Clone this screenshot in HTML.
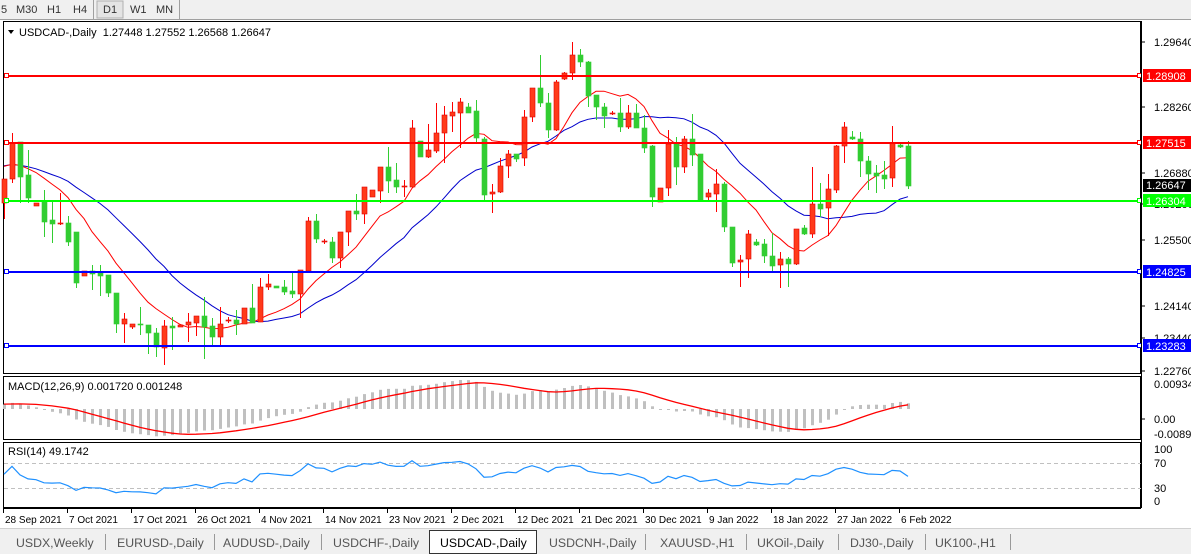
<!DOCTYPE html>
<html><head><meta charset="utf-8">
<style>
html,body{margin:0;padding:0;background:#fff;width:1191px;height:554px;overflow:hidden;font-family:"Liberation Sans",sans-serif;}
svg{display:block}
</style></head>
<body>
<svg id="s" width="1191" height="554" xmlns="http://www.w3.org/2000/svg" font-family="Liberation Sans, sans-serif" font-size="11"></svg>
<script>
var D=[[1,179,203,179,219],[1,143,179,133,183],[0,142,177,142,203],[0,175,198,150,203],[1,203,206,203,206],[0,202,222,190,237],[0,220,224,202,243],[1,223,224,193,225],[0,223,242,216,246],[0,232,283,232,288],
[1,271,276,271,276],[0,271,274,265,290],[0,273,276,265,296],[0,275,293,275,297],[0,293,324,293,333],[1,319,324,313,343],[1,324,327,324,329],[0,324,325,307,335],[0,325,333,325,354],[0,333,347,328,357],
[1,326,348,320,365],[0,326,328,317,350],[1,325,327,325,327],[1,322,325,313,342],[1,316,323,316,336],[0,316,327,297,359],[0,326,337,318,345],[1,324,337,307,346],[1,320,321,317,323],[0,320,324,310,335],
[1,308,324,308,324],[0,308,323,284,323],[1,287,322,278,322],[1,284,287,274,290],[0,286,288,286,288],[0,287,292,280,295],[0,291,294,271,298],[1,270,294,270,318],[1,221,271,217,273],[0,221,239,214,243],
[1,241,242,239,244],[0,242,258,237,263],[1,232,258,232,268],[1,211,232,211,246],[0,211,214,194,220],[1,187,214,187,224],[1,190,197,190,197],[1,167,191,167,203],[0,167,181,147,193],[0,180,187,163,193],
[1,186,187,180,197],[1,128,187,120,188],[0,141,157,141,157],[1,150,157,124,158],[1,133,151,103,153],[1,115,133,106,163],[1,112,116,102,132],[1,102,113,98,148],[0,107,113,103,113],[0,111,138,100,143],
[0,139,195,137,200],[1,192,194,184,213],[1,166,192,158,193],[1,154,166,150,178],[0,154,159,154,162],[1,117,158,110,166],[1,88,117,88,122],[0,88,103,55,107],[0,103,130,93,138],[1,82,130,80,131],
[1,73,79,72,80],[1,55,73,42,80],[0,55,62,49,67],[0,62,96,61,107],[0,95,107,95,120],[0,107,116,103,128],[1,113,114,111,115],[0,113,127,98,132],[1,113,127,105,129],[0,113,128,104,128],
[0,128,148,115,153],[0,146,197,145,207],[1,188,202,188,202],[1,144,188,130,196],[0,143,167,137,185],[1,139,167,136,173],[0,139,155,114,166],[0,154,200,154,200],[1,193,197,189,201],[1,184,194,169,212],
[0,184,227,182,232],[0,227,263,227,267],[1,260,262,255,287],[1,234,259,230,278],[0,242,245,239,246],[0,244,256,239,263],[0,256,266,233,272],[1,259,265,252,288],[0,259,264,257,287],[1,229,264,229,265],
[0,228,234,225,235],[1,204,234,167,238],[0,204,209,183,217],[1,189,208,174,236],[1,146,190,145,193],[1,127,146,122,163],[0,137,139,131,140],[0,139,161,132,177],[0,161,174,156,190],[0,173,176,165,193],
[0,175,179,161,189],[1,143,178,126,187],[0,145,147,144,148],[0,146,186,141,189]];
var o=[];
function X(i){return 4+8*i;}
o.push('<rect x="0" y="0" width="1191" height="19" fill="#f0f0f0"/>');
o.push('<line x1="0" y1="19.5" x2="1191" y2="19.5" stroke="#a0a0a0"/>');
o.push('<rect x="97" y="1" width="26" height="17" fill="#e4e4e4" stroke="#b0b0b0"/>');
o.push('<line x1="93.5" y1="0" x2="93.5" y2="19" stroke="#a0a0a0"/><line x1="179.5" y1="0" x2="179.5" y2="19" stroke="#a0a0a0"/>');
[["5",1],["M30",16],["H1",47],["H4",73],["D1",103],["W1",130],["MN",156]].forEach(function(t){o.push('<text x="'+t[1]+'" y="13" fill="#333">'+t[0]+'</text>');});
o.push('<rect x="3.5" y="21.5" width="1137" height="352" fill="none" stroke="#000"/>');
o.push('<rect x="3.5" y="376.5" width="1137" height="63" fill="none" stroke="#000"/>');
o.push('<rect x="3.5" y="442.5" width="1137" height="65" fill="none" stroke="#000"/>');
o.push('<line x1="3" y1="508.5" x2="1141" y2="508.5" stroke="#000"/>');
o.push('<path d="M8 30 L14 30 L11 34 Z" fill="#000"/>');
o.push('<text x="19" y="36" fill="#000">USDCAD-,Daily&#160; 1.27448 1.27552 1.26568 1.26647</text>');
[["1.29640",42],["1.28260",107],["1.26880",173],["1.26200",204],["1.25500",240],["1.24140",306],["1.23440",338],["1.22760",371]].forEach(function(t){
 o.push('<line x1="1141" y1="'+t[1]+'" x2="1145" y2="'+t[1]+'" stroke="#000"/><text x="1154" y="'+(t[1]+4)+'" fill="#000">'+t[0]+'</text>');});
var N=D.length,cl=[];
for(var i=0;i<N;i++){cl.push(D[i][0]?D[i][1]:D[i][2]);}
var pad=[];for(i=0;i<30;i++)pad.push(165);
var all=pad.concat(cl);
var pad2=[];for(i=0;i<40;i++)pad2.push(215-45*i/39+(i%2?4:-4));
var all2=pad2.concat(cl);
function sma(p,idx){var s=0;for(var k=0;k<p;k++)s+=all[idx-k];return s/p;}
var r='',b='';
for(i=0;i<N;i++){var j=i+30;r+=(i?'L':'M')+X(i)+' '+sma(10,j).toFixed(1)+' ';b+=(i?'L':'M')+X(i)+' '+sma(20,j).toFixed(1)+' ';}
function lvl(y,c,lab,tc){o.push('<line x1="4" y1="'+y+'" x2="1141" y2="'+y+'" stroke="'+c+'" stroke-width="2"/>');
 o.push('<rect x="4.5" y="'+(y-2.5)+'" width="4" height="4" fill="#fff" stroke="'+c+'"/>');
 o.push('<rect x="1137.5" y="'+(y-2.5)+'" width="4" height="4" fill="#fff" stroke="'+c+'"/>');
 o.push('<rect x="1143" y="'+(y-7)+'" width="48" height="13" fill="'+c+'"/><text x="1146" y="'+(y+4)+'" fill="'+(tc||'#fff')+'">'+lab+'</text>');}
o.push('<path d="'+b+'" fill="none" stroke="#0000cc" stroke-width="1"/>');
o.push('<path d="'+r+'" fill="none" stroke="#ff0000" stroke-width="1"/>');
for(i=0;i<N;i++){var d=D[i],x=X(i),c=d[0]?'#ff0000':'#32cd32',f=d[0]?'#ff3a1a':'#32cd32';
 o.push('<line x1="'+(x+0.5)+'" y1="'+d[3]+'" x2="'+(x+0.5)+'" y2="'+d[4]+'" stroke="'+c+'"/>');
 var h=Math.max(1,d[2]-d[1]);
 o.push('<rect x="'+(x-2)+'" y="'+d[1]+'" width="5" height="'+h+'" fill="'+f+'" stroke="'+(d[0]?'#e00000':'#32cd32')+'" stroke-width="0.6"/>');}
lvl(76,'#ff0000','1.28908');lvl(143,'#ff0000','1.27515');lvl(201,'#00ff00','1.26304');lvl(272,'#0000ff','1.24825');lvl(346,'#0000ff','1.23283');
o.push('<rect x="1143" y="179" width="48" height="13" fill="#000"/><text x="1146" y="189" fill="#fff">1.26647</text>');
function P(y){return 1.28908-(y-76)/4800;}
var PD=40;
var pc=all2.map(P),e12=pc[0],e26=pc[0],m=[],k12=2/13,k26=2/27;
for(i=0;i<pc.length;i++){e12=pc[i]*k12+e12*(1-k12);e26=pc[i]*k26+e26*(1-k26);m.push(e12-e26);}
var sg=[];for(i=0;i<m.length;i++){var s=0,n=0;for(var q=0;q<9&&i-q>=0;q++){s+=m[i-q];n++;}sg.push(s/n);}
var mx=0;for(i=PD;i<m.length;i++)mx=Math.max(mx,Math.abs(m[i]));
var sc=29/mx,base=409,sp='';
for(i=0;i<N;i++){var v=m[i+PD]*sc,x=X(i);o.push('<rect x="'+(x-1)+'" y="'+Math.min(base,base-v).toFixed(1)+'" width="3" height="'+Math.max(1,Math.abs(v)).toFixed(1)+'" fill="#c0c0c0"/>');
 sp+=(i?'L':'M')+x+' '+(base-sg[i+PD]*sc).toFixed(1)+' ';}
o.push('<path d="'+sp+'" fill="none" stroke="#ff0000" stroke-width="1.3"/>');
o.push('<text x="8" y="390" fill="#000">MACD(12,26,9) 0.001720 0.001248</text>');
[["0.009345",388],["0.00",423],["-0.00890",438]].forEach(function(t){o.push('<text x="1154" y="'+t[1]+'" fill="#000">'+t[0]+'</text>');});
o.push('<line x1="1141" y1="419" x2="1145" y2="419" stroke="#000"/>');
o.push('<line x1="4" y1="463.5" x2="1141" y2="463.5" stroke="#c0c0c0" stroke-dasharray="4,3"/><line x1="4" y1="488.5" x2="1141" y2="488.5" stroke="#c0c0c0" stroke-dasharray="4,3"/>');
var ag=0,al=0,rp='';
for(i=1;i<pc.length;i++){var ch=pc[i]-pc[i-1],g=ch>0?ch:0,l=ch<0?-ch:0;
 if(i<=14){ag+=g/14;al+=l/14;}else{ag=(ag*13+g)/14;al=(al*13+l)/14;}
 if(i>=PD){var rs=al==0?100:100-100/(1+ag/al);var ii=i-PD;rp+=(ii?'L':'M')+X(ii)+' '+(507-rs*0.625).toFixed(1)+' ';}}
o.push('<path d="'+rp+'" fill="none" stroke="#1e90ff" stroke-width="1.2"/>');
o.push('<text x="8" y="455" fill="#000">RSI(14) 49.1742</text>');
[["100",453],["70",467],["30",492],["0",505]].forEach(function(t){o.push('<text x="1154" y="'+t[1]+'" fill="#000">'+t[0]+'</text>');});
o.push('<line x1="1141.5" y1="21" x2="1141.5" y2="508" stroke="#000"/>');
["28 Sep 2021","7 Oct 2021","17 Oct 2021","26 Oct 2021","4 Nov 2021","14 Nov 2021","23 Nov 2021","2 Dec 2021","12 Dec 2021","21 Dec 2021","30 Dec 2021","9 Jan 2022","18 Jan 2022","27 Jan 2022","6 Feb 2022"].forEach(function(t,k){
 var x=3+64*k;o.push('<line x1="'+(x+0.5)+'" y1="508" x2="'+(x+0.5)+'" y2="513" stroke="#000"/><text x="'+(x+2)+'" y="523" font-size="10" fill="#000">'+t+'</text>');});
o.push('<rect x="0" y="528" width="1191" height="26" fill="#f0f0f0"/><line x1="0" y1="528.5" x2="1191" y2="528.5" stroke="#d0d0d0"/>');
o.push('<rect x="429.5" y="530.5" width="107" height="23" fill="#fff" stroke="#333"/>');
[["USDX,Weekly",16],["EURUSD-,Daily",117],["AUDUSD-,Daily",223],["USDCHF-,Daily",333],["USDCAD-,Daily",440],["USDCNH-,Daily",549],["XAUUSD-,H1",660],["UKOil-,Daily",757],["DJ30-,Daily",850],["UK100-,H1",935]].forEach(function(t,k){
 o.push('<text x="'+t[1]+'" y="547" font-size="12.3" fill="'+(k==4?'#000':'#555')+'">'+t[0]+'</text>');});
[105,214,321,645,746,838,925,1010].forEach(function(x){o.push('<line x1="'+x+'.5" y1="534" x2="'+x+'.5" y2="550" stroke="#999"/>');});
document.getElementById('s').innerHTML=o.join('');
</script>
</body></html>
